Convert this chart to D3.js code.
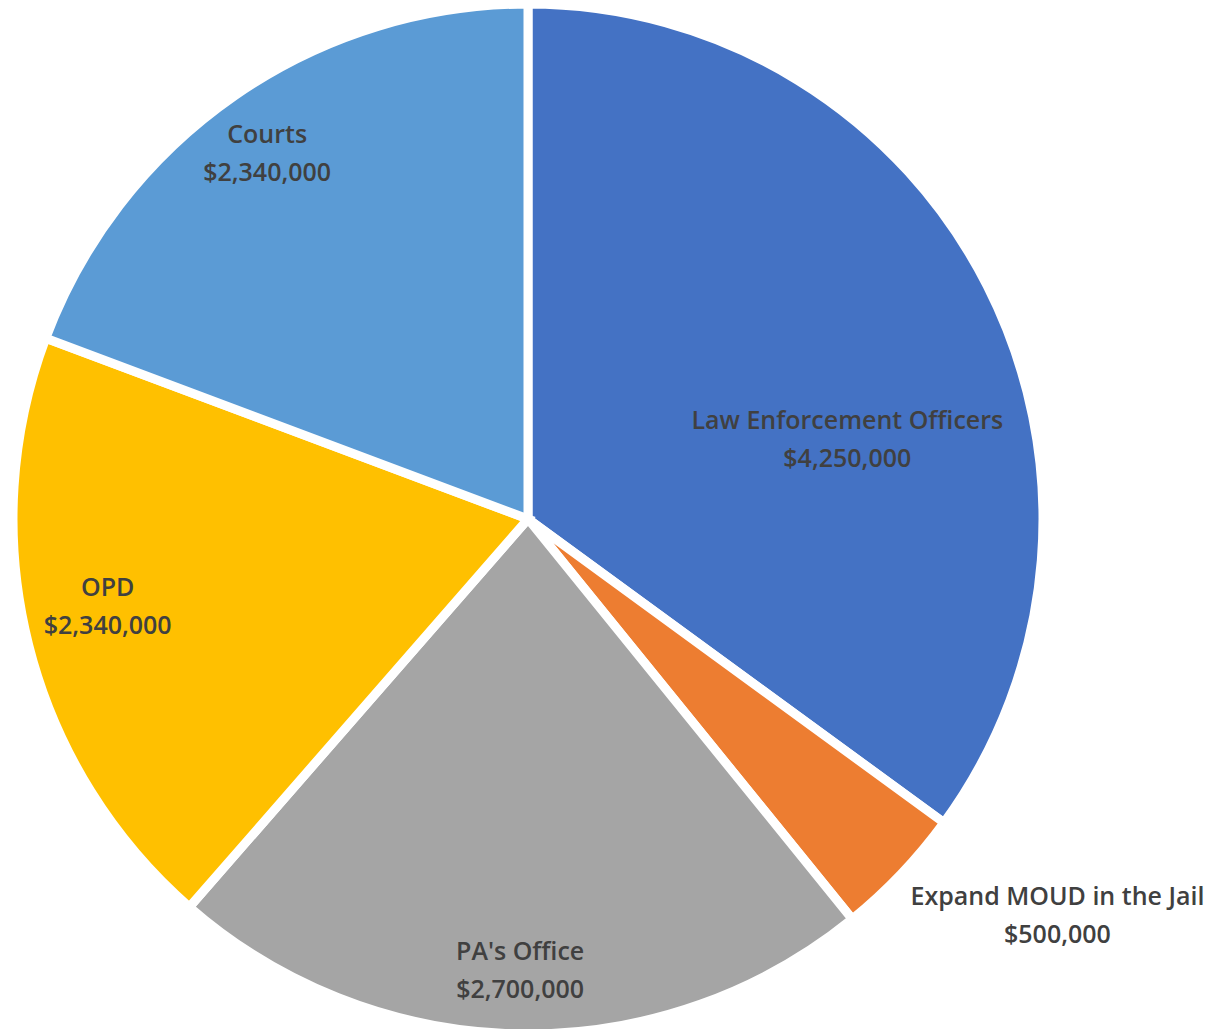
<!DOCTYPE html>
<html>
<head>
<meta charset="utf-8">
<script src="https://cdn.jsdelivr.net/npm/d3@7"></script>
<style>
  html, body { margin: 0; padding: 0; background: #ffffff; }
  svg { display: block; }
</style>
</head>
<body>
<svg id="chart" width="1231" height="1029"></svg>
<script>
const categories = ["Law Enforcement Officers", "Expand MOUD in the Jail", "PA's Office", "OPD", "Courts"];
const values = [4250000, 500000, 2700000, 2340000, 2340000];
const colors = ["#4472C4", "#ED7D31", "#A5A5A5", "#FFC000", "#5B9BD5"];
// label placement: [angle in degrees clockwise from top, radius fraction]
const labelAngles = [76, 126.8, 181, 258.3, 324.5];
const labelRadii = [0.644, 1.294, 0.883, 0.84, 0.879];

const width = 1231, height = 1029;
const cx = 528, cy = 519, r = 515;

const svg = d3.select("#chart");
const g = svg.append("g").attr("transform", `translate(${cx},${cy})`);

const data = categories.map((c, i) => ({ name: c, value: values[i], color: colors[i], la: labelAngles[i], lr: labelRadii[i] }));

const pie = d3.pie().value(d => d.value).sort(null);
const arc = d3.arc().innerRadius(0).outerRadius(r);

g.selectAll("path.slice")
  .data(pie(data))
  .join("path")
  .attr("class", "slice")
  .attr("d", arc)
  .attr("fill", d => d.data.color)
  .attr("stroke", "#ffffff")
  .attr("stroke-width", 9)
  .attr("stroke-linejoin", "miter");

const fmt = d3.format("$,");
const lr0 = 511;
const labels = g.selectAll("text.lbl")
  .data(data)
  .join("text")
  .attr("class", "lbl")
  .attr("text-anchor", "middle")
  .attr("font-family", "'Open Sans', 'Noto Sans', sans-serif")
  .attr("font-weight", 600)
  .attr("font-size", 25)
  .attr("fill", "#404040")
  .attr("transform", d => {
    const a = d.la * Math.PI / 180;
    const x = Math.sin(a) * d.lr * lr0;
    const y = -Math.cos(a) * d.lr * lr0;
    return `translate(${x},${y})`;
  });
labels.append("tspan").attr("x", 0).attr("y", -10).text(d => d.name);
labels.append("tspan").attr("x", 0).attr("y", 28).text(d => fmt(d.value));
</script>
</body>
</html>
